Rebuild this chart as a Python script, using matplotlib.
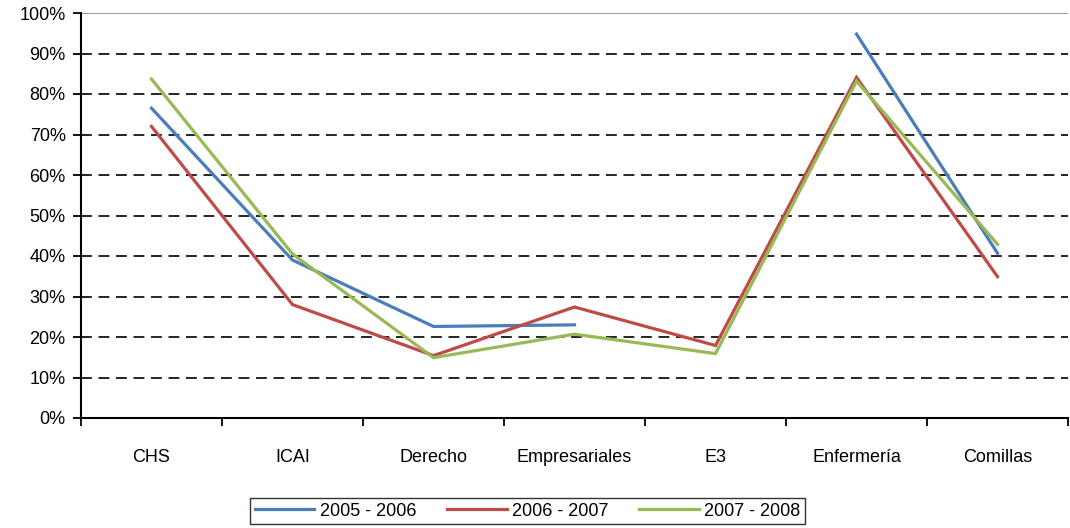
import matplotlib.pyplot as plt
import numpy as np

plt.rcParams['font.family'] = ['Liberation Sans', 'DejaVu Sans']

categories = ['CHS', 'ICAI', 'Derecho', 'Empresariales', 'E3', 'Enfermería', 'Comillas']
series_labels = ['2005 - 2006', '2006 - 2007', '2007 - 2008']
s2005 = [76.5, 39.0, 22.6, 23.0, np.nan, 94.8, 40.7]
s2006 = [72.0, 28.0, 15.4, 27.4, 17.9, 84.1, 34.9]
s2007 = [83.7, 40.5, 14.9, 20.7, 15.9, 83.2, 42.9]
colors = ['#4A7EBB', '#BE4B48', '#98B954']

fig = plt.figure(figsize=(10.7, 5.28), dpi=100)
ax = fig.add_axes([81 / 1070, 1 - 418 / 528, (1068 - 81) / 1070, (418 - 13) / 528])

x = np.arange(len(categories))
for vals, lab, c in zip([s2005, s2006, s2007], series_labels, colors):
    ax.plot(x, vals, color=c, lw=2.3, label=lab, solid_joinstyle='miter')

# grid lines
for v in range(10, 100, 10):
    ax.axhline(v, color='black', lw=1.2, linestyle=(0, (6.5, 4)), zorder=0)
ax.axhline(100, color='#9a9a9a', lw=1.4, zorder=0)

ax.set_xlim(-0.5, len(categories) - 0.5)
ax.set_ylim(0, 100)
ax.set_yticks(range(0, 101, 10))
ax.set_yticklabels([f'{v}%' for v in range(0, 101, 10)], fontsize=13)
ax.set_xticks(np.arange(-0.5, len(categories), 1))
ax.set_xticklabels([])
ax.set_xticks(x, minor=True)
ax.set_xticklabels(categories, minor=True, fontsize=13)
ax.tick_params(axis='x', which='major', direction='out', length=6, width=1.3)
ax.tick_params(axis='x', which='minor', length=0, pad=22)
ax.tick_params(axis='y', direction='out', length=6, width=1.3, pad=5)

for side in ['top', 'right']:
    ax.spines[side].set_visible(False)
for side in ['left', 'bottom']:
    ax.spines[side].set_linewidth(1.5)

leg = fig.legend(loc='center', bbox_to_anchor=(0.493, 0.032), ncol=3, fontsize=13,
                 frameon=True, fancybox=False, edgecolor='black', handlelength=3.3,
                 handletextpad=0.3, columnspacing=1.7, borderpad=0.25)
leg.get_frame().set_linewidth(1.0)

fig.savefig('out.png', dpi=100)
